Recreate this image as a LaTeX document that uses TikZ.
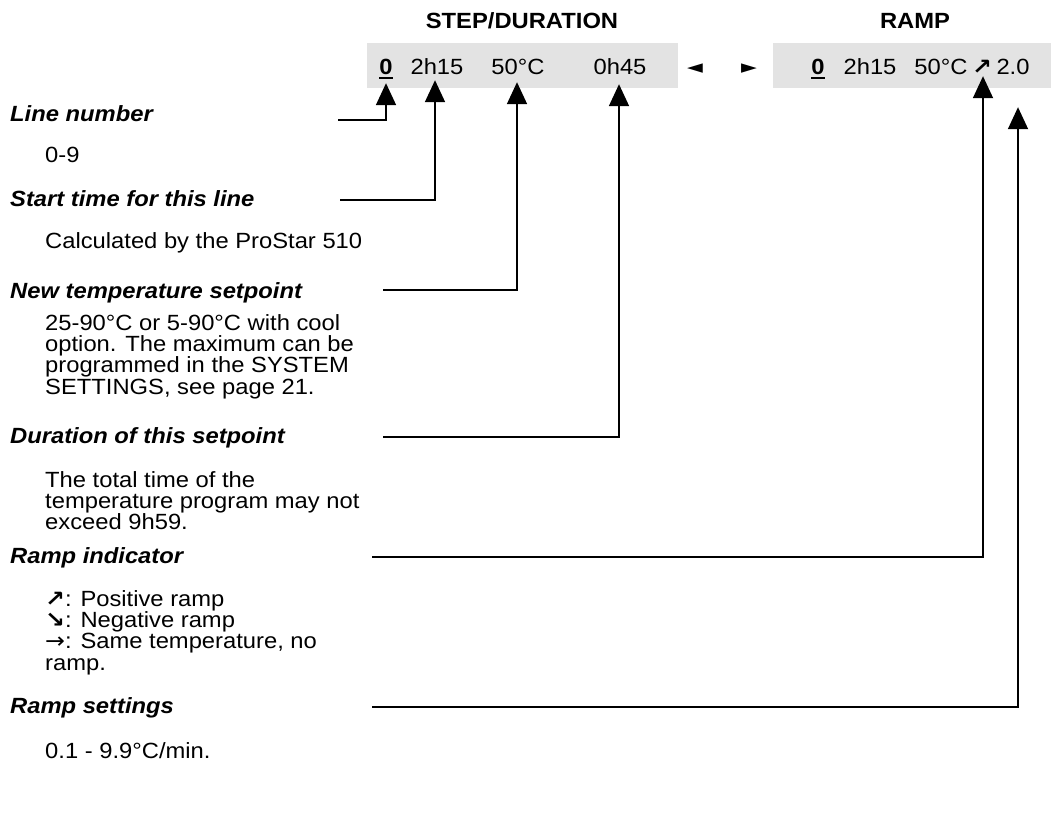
\documentclass[tikz,border=0pt]{standalone}
\usepackage{fontspec}
\setmainfont{Liberation Sans}[FakeStretch=1.08]
\newfontfamily\arrowfont{DejaVu Sans}[FakeStretch=1.08]
\usetikzlibrary{arrows.meta}
\definecolor{lcdgrey}{HTML}{E3E3E3}
\newcommand{\ulbold}[1]{\begingroup\setbox0\hbox{\textbf{#1}}\rlap{\rule[-4.5pt]{\wd0}{2pt}}\box0\endgroup}
\tikzset{
    x=1pt,
    y=-1pt,
    heading/.style = {
        anchor=north west,
        inner sep=0pt,
        font=\fontsize{22}{21.3}\selectfont\bfseries\itshape
    },
    body/.style = {
        anchor=north west,
        inner sep=0pt,
        align=left,
        font=\fontsize{22}{21.3}\selectfont
    },
    title/.style = {
        inner sep=0pt,
        font=\fontsize{22}{21.3}\selectfont\bfseries
    },
    lcd/.style = {
        anchor=base,
        inner sep=0pt,
        text height=16pt,
        text depth=6pt,
        font=\fontsize{22}{21.3}\selectfont
    },
    screen/.style = {
        fill=lcdgrey,
        inner sep=0pt,
        minimum height=45pt
    },
    pointer/.style = {
        draw,
        line width=1.8pt,
        -{Triangle[width=20pt,length=22pt]}
    },
}

\begin{document}
\begin{tikzpicture}
        \useasboundingbox (0,0) rectangle (1051,827);

        \node[screen, minimum width=311pt] (screen1) at (522.5,65.5) {};
        \node[screen, minimum width=278pt] (screen2) at (912,65.5) {};
        \node[title] (steptitle) at (522,21) {STEP/DURATION};
        \node[title] (ramptitle) at (915,21) {RAMP};

        \node[lcd] (line1) at (386,74) {\ulbold{0}};
        \node[lcd] (start1) at (437,74) {2h15};
        \node[lcd] (temp1) at (518,74) {50°C};
        \node[lcd] (dur1) at (620,74) {0h45};
        \node[lcd, font=\arrowfont\fontsize{19}{19}\selectfont] (prev) at (695,73) {◄};
        \node[lcd, font=\arrowfont\fontsize{19}{19}\selectfont] (next) at (749,73) {►};
        \node[lcd] (line2) at (818,74) {\ulbold{0}};
        \node[lcd] (start2) at (870,74) {2h15};
        \node[lcd] (temp2) at (941,74) {50°C};
        \node[lcd, font=\arrowfont\bfseries\fontsize{22}{21.3}\selectfont] (slope) at (982,74) {↗};
        \node[lcd] (rate) at (1013,74) {2.0};

        \node[heading] (linehead) at (10,105) {Line number};
        \node[body] (linetext) at (45,147) {0-9};
        \node[heading] (starthead) at (10,190) {Start time for this line};
        \node[body] (starttext) at (45,232) {Calculated by the ProStar 510};
        \node[heading] (temphead) at (10,282) {New temperature setpoint};
        \node[body] (temptext) at (45,314) {25-90°C or 5-90°C with cool\\option. The maximum can be\\programmed in the SYSTEM\\SETTINGS, see page 21.};
        \node[heading] (durhead) at (10,427) {Duration of this setpoint};
        \node[body] (durtext) at (45,471) {The total time of the\\temperature program may not\\exceed 9h59.};
        \node[heading] (slopehead) at (10,547) {Ramp indicator};
        \node[body] (slopetext) at (45,590) {{\arrowfont\bfseries ↗}: Positive ramp\\{\arrowfont\bfseries ↘}: Negative ramp\\{\arrowfont →}: Same temperature, no\\ramp.};
        \node[heading] (ratehead) at (10,697) {Ramp settings};
        \node[body] (ratetext) at (45,742) {0.1 - 9.9°C/min.};

        \coordinate (linefoot) at (338,120);
        \coordinate (startfoot) at (340,200);
        \coordinate (tempfoot) at (383,290);
        \coordinate (durfoot) at (383,437);
        \coordinate (slopefoot) at (372,557);
        \coordinate (ratefoot) at (372,707);

        \path[pointer] (linefoot) -| ([yshift=-3pt]line1.south);
        \path[pointer] (startfoot) -| ([xshift=-2pt]start1.south);
        \path[pointer] (tempfoot) -| ([xshift=-1pt,yshift=-2pt]temp1.south);
        \path[pointer] (durfoot) -| ([xshift=-1pt,yshift=-4pt]dur1.south);
        \path[pointer] (slopefoot) -| ([xshift=1pt,yshift=4pt]slope.south);
        \path[pointer] (ratefoot) -| ([xshift=5pt,yshift=-27pt]rate.south);
    \end{tikzpicture}
\end{document}
